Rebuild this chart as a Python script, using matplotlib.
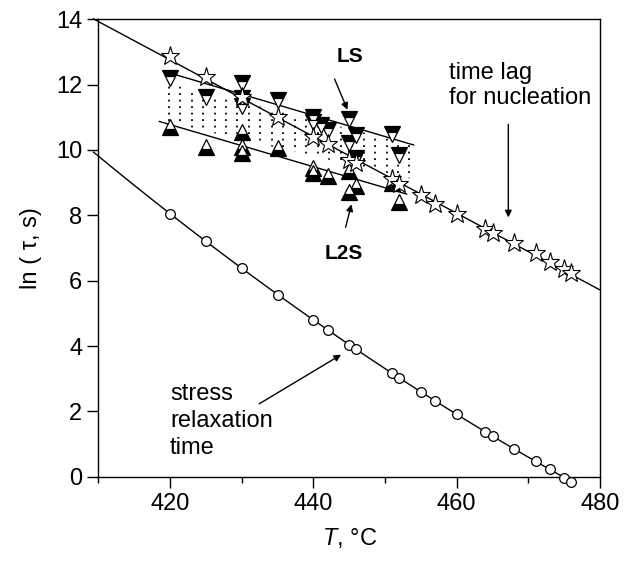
import numpy as np
import matplotlib
matplotlib.use("Agg")
import matplotlib.pyplot as plt
from matplotlib.patches import Polygon

plt.rcParams['font.family'] = ['Liberation Sans', 'DejaVu Sans']
plt.rcParams['mathtext.fontset'] = 'custom'
plt.rcParams['mathtext.it'] = 'Liberation Sans:italic'
plt.rcParams['mathtext.rm'] = 'Liberation Sans'

# stress relaxation time (open circles)
circ_T = [420, 425, 430, 435, 440, 442, 445, 446, 451, 452, 455, 457, 460,
          464, 465, 468, 471, 473, 475, 476]
circ_y = [8.05, 7.21, 6.38, 5.57, 4.80, 4.49, 4.03, 3.90, 3.17, 3.03, 2.60,
          2.33, 1.91, 1.38, 1.25, 0.85, 0.48, 0.23, -0.02, -0.15]

# time lag for nucleation (open stars)
star_T = [420, 425, 430, 435, 440, 442, 445, 446, 451, 452, 455, 457, 460,
          464, 465, 468, 471, 473, 475, 476]
star_y = [12.86, 12.22, 11.61, 11.0, 10.41, 10.18, 9.69, 9.59, 9.10, 8.96,
          8.62, 8.35, 8.04, 7.57, 7.47, 7.14, 6.84, 6.58, 6.35, 6.25]

# LS (down triangles)
ls_T = [420, 425, 430, 430, 430, 435, 440, 440, 441, 442, 445, 445, 446, 446, 451, 452]
ls_y = [12.2, 11.63, 12.05, 11.6, 11.35, 11.53, 11.02, 10.85, 10.75, 10.6,
        10.95, 10.2, 10.45, 9.75, 10.48, 9.85]

# L2S (up triangles)
l2s_T = [420, 425, 430, 430, 430, 435, 440, 440, 442, 445, 445, 446, 451, 452]
l2s_y = [10.71, 10.1, 10.55, 10.1, 9.9, 10.05, 9.45, 9.3, 9.2, 9.35, 8.7, 8.9, 9.0, 8.4]

# guide lines drawn through the LS / L2S groups
ls_line_T = [420, 454]
ls_line_y = [12.35, 10.15]
l2s_line_T = [418.5, 453]
l2s_line_y = [10.87, 8.65]

# dotted band (T, lnτ corners)
band_T = [419.5, 454, 454, 419.5]
band_y = [12.05, 10.15, 9.1, 10.85]

fig = plt.figure(figsize=(6.27, 5.63), dpi=100)
ax = fig.add_axes([0.157, 0.153, 0.8, 0.813])

# dotted band
poly = Polygon(np.column_stack([band_T, band_y]), closed=True,
               facecolor='none', edgecolor='none')
ax.add_patch(poly)
for t in np.arange(419.8, 454, 1.6):
    ln, = ax.plot([t, t], [8.5, 12.5], color='black', lw=1.3,
                  ls=(0, (1.0, 2.6)))
    ln.set_clip_path(poly)

# fit curves
c = np.polyfit(circ_T, circ_y, 2)
tt = np.linspace(409.3, 476.3, 100)
ax.plot(tt, np.polyval(c, tt), color='black', lw=1, clip_on=False, zorder=2)
s = np.polyfit(star_T, star_y, 1)
tt2 = np.linspace(409.3, 480, 100)
ax.plot(tt2, np.polyval(s, tt2), color='black', lw=1, clip_on=False, zorder=2)
ax.plot(ls_line_T, ls_line_y, color='black', lw=1, zorder=2)
ax.plot(l2s_line_T, l2s_line_y, color='black', lw=1, zorder=2)

# markers
ax.plot(circ_T, circ_y, 'o', ms=7, mfc='white', mec='black', mew=0.9,
        ls='none', clip_on=False, zorder=4)
ax.plot(star_T, star_y, '*', ms=14, mfc='white', mec='black', mew=0.8,
        ls='none', zorder=5)
ax.plot(ls_T, ls_y, 'v', ms=11, fillstyle='top', mfc='black',
        markerfacecoloralt='white', mec='black', mew=0.9, ls='none', zorder=3)
ax.plot(l2s_T, l2s_y, '^', ms=11, fillstyle='bottom', mfc='black',
        markerfacecoloralt='white', mec='black', mew=0.9, ls='none', zorder=3)

# annotations
ax.text(445.1, 12.85, 'LS', fontsize=15, fontweight='bold', ha='center', va='center')
ax.annotate('', xy=(444.9, 11.15), xytext=(442.8, 12.25),
            arrowprops=dict(arrowstyle='-|>', color='black', lw=1, mutation_scale=10))
ax.text(444.2, 6.84, 'L2S', fontsize=15, fontweight='bold', ha='center', va='center')
ax.annotate('', xy=(445.4, 8.42), xytext=(444.4, 7.55),
            arrowprops=dict(arrowstyle='-|>', color='black', lw=1, mutation_scale=10))
ax.text(458.9, 11.97, 'time lag\nfor nucleation', fontsize=17, ha='left', va='center',
        linespacing=1.2)
ax.annotate('', xy=(467.2, 7.85), xytext=(467.2, 10.87),
            arrowprops=dict(arrowstyle='-|>', color='black', lw=1, mutation_scale=10))
ax.text(420.0, 1.71, 'stress\nrelaxation\ntime', fontsize=17, ha='left', va='center',
        linespacing=1.3)
ax.annotate('', xy=(444.2, 3.78), xytext=(432.1, 2.19),
            arrowprops=dict(arrowstyle='-|>', color='black', lw=1, mutation_scale=10))

ax.set_xlim(410, 480)
ax.set_ylim(0, 14)
ax.set_xticks([420, 440, 460, 480])
ax.set_xticks([410, 430, 450, 470], minor=True)
ax.set_yticks(range(0, 15, 2))
ax.tick_params(axis='both', which='major', direction='out', length=8, width=1,
               labelsize=17, top=False, right=False)
ax.tick_params(axis='x', which='minor', direction='out', length=4, width=1)
for sp in ax.spines.values():
    sp.set_linewidth(1)
ax.set_xlabel(r'$T$, °C', fontsize=17, labelpad=8)
ax.set_ylabel('ln ( τ, s)', fontsize=17, labelpad=10)

fig.savefig('out.png', dpi=100, facecolor='white')
